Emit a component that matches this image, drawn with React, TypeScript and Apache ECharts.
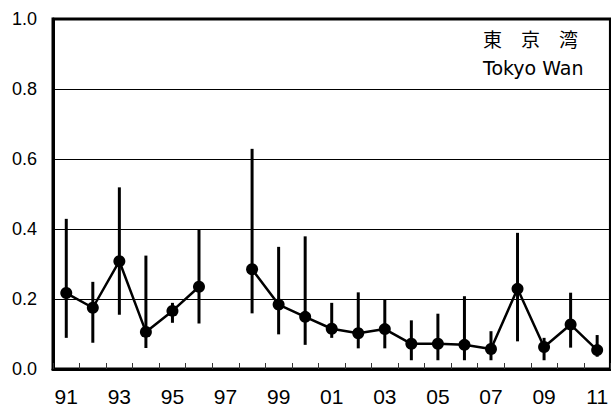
import React, { useEffect, useRef } from "react";
import * as echarts from "echarts";

// Survey years 1991–2011, two-digit labels
const years: string[] = [
  "91", "92", "93", "94", "95", "96", "97", "98", "99", "00", "01",
  "02", "03", "04", "05", "06", "07", "08", "09", "10", "11",
];

// Annual mean (null = no survey that year)
const meanValues: (number | null)[] = [
  0.217, 0.175, 0.308, 0.106, 0.166, 0.235, null, 0.285, 0.184, 0.149, 0.115,
  0.102, 0.114, 0.072, 0.072, 0.069, 0.057, 0.229, 0.063, 0.127, 0.054,
];

// Range: lowest and highest values per year
const minValues: (number | null)[] = [
  0.089, 0.075, 0.155, 0.060, 0.132, 0.130, null, 0.159, 0.099, 0.069, 0.089,
  0.059, 0.059, 0.025, 0.025, 0.025, 0.025, 0.079, 0.025, 0.061, 0.035,
];
const maxValues: (number | null)[] = [
  0.429, 0.249, 0.519, 0.324, 0.189, 0.400, null, 0.629, 0.349, 0.379, 0.189,
  0.219, 0.198, 0.139, 0.158, 0.208, 0.108, 0.389, 0.089, 0.218, 0.097,
];

const titleJa = "東　京　湾";
const titleEn = "Tokyo Wan";

export default function App() {
  const ref = useRef<HTMLDivElement>(null);

  useEffect(() => {
    if (!ref.current) return;
    const chart = echarts.init(ref.current, null, { renderer: "svg" });

    const rangeData = years
      .map((y, i) => [i, minValues[i], maxValues[i]])
      .filter((d) => d[1] != null && d[2] != null);

    const font = "'Liberation Sans', Arial, sans-serif";
    const narrow = "'Liberation Sans Narrow', 'Arial Narrow', 'Liberation Sans', sans-serif";

    chart.setOption({
      animation: false,
      backgroundColor: "#fff",
      grid: {
        left: 53,
        top: 19,
        width: 560,
        height: 350,
        show: true,
        borderColor: "#000",
        borderWidth: 3,
      },
      xAxis: {
        type: "category",
        data: years,
        boundaryGap: true,
        axisLine: { show: true, lineStyle: { color: "#000", width: 3 } },
        axisTick: {
          show: true,
          inside: true,
          length: 6,
          interval: 0,
          lineStyle: { color: "#333", width: 1 },
        },
        axisLabel: {
          interval: 1,
          margin: 17,
          color: "#000",
          fontSize: 21,
          fontFamily: narrow,
        },
        splitLine: { show: false },
      },
      yAxis: {
        type: "value",
        min: 0,
        max: 1,
        interval: 0.2,
        axisLine: { show: true, lineStyle: { color: "#000", width: 3 } },
        axisTick: { show: false },
        axisLabel: {
          margin: 16,
          color: "#000",
          fontSize: 18,
          fontFamily: font,
          formatter: (v: number) => v.toFixed(1),
        },
        splitLine: { show: true, lineStyle: { color: "#000", width: 1 } },
      },
      series: [
        {
          type: "custom",
          data: rangeData,
          z: 2,
          renderItem: (params: any, api: any) => {
            const x = api.value(0);
            const lo = api.coord([x, api.value(1)]);
            const hi = api.coord([x, api.value(2)]);
            return {
              type: "line",
              shape: { x1: lo[0], y1: lo[1], x2: hi[0], y2: hi[1] },
              style: { stroke: "#000", lineWidth: 3 },
            };
          },
        },
        {
          type: "line",
          data: meanValues,
          connectNulls: false,
          z: 3,
          symbol: "circle",
          symbolSize: 12,
          itemStyle: { color: "#000" },
          lineStyle: { color: "#000", width: 2.5 },
        },
      ],
      graphic: [
        {
          type: "text",
          left: 483,
          top: 29,
          style: {
            text: titleJa,
            fontSize: 19,
            fontFamily: "'Noto Sans CJK JP', sans-serif",
            fill: "#000",
          },
        },
        {
          type: "text",
          left: 483,
          top: 58,
          style: {
            text: titleEn,
            fontSize: 19,
            fontFamily: "'DejaVu Sans', sans-serif",
            fill: "#000",
          },
        },
      ],
    });

    return () => chart.dispose();
  }, []);

  return (
    <div
      ref={ref}
      style={{ width: 611, height: 413, position: "absolute", left: 0, top: 0 }}
    />
  );
}
